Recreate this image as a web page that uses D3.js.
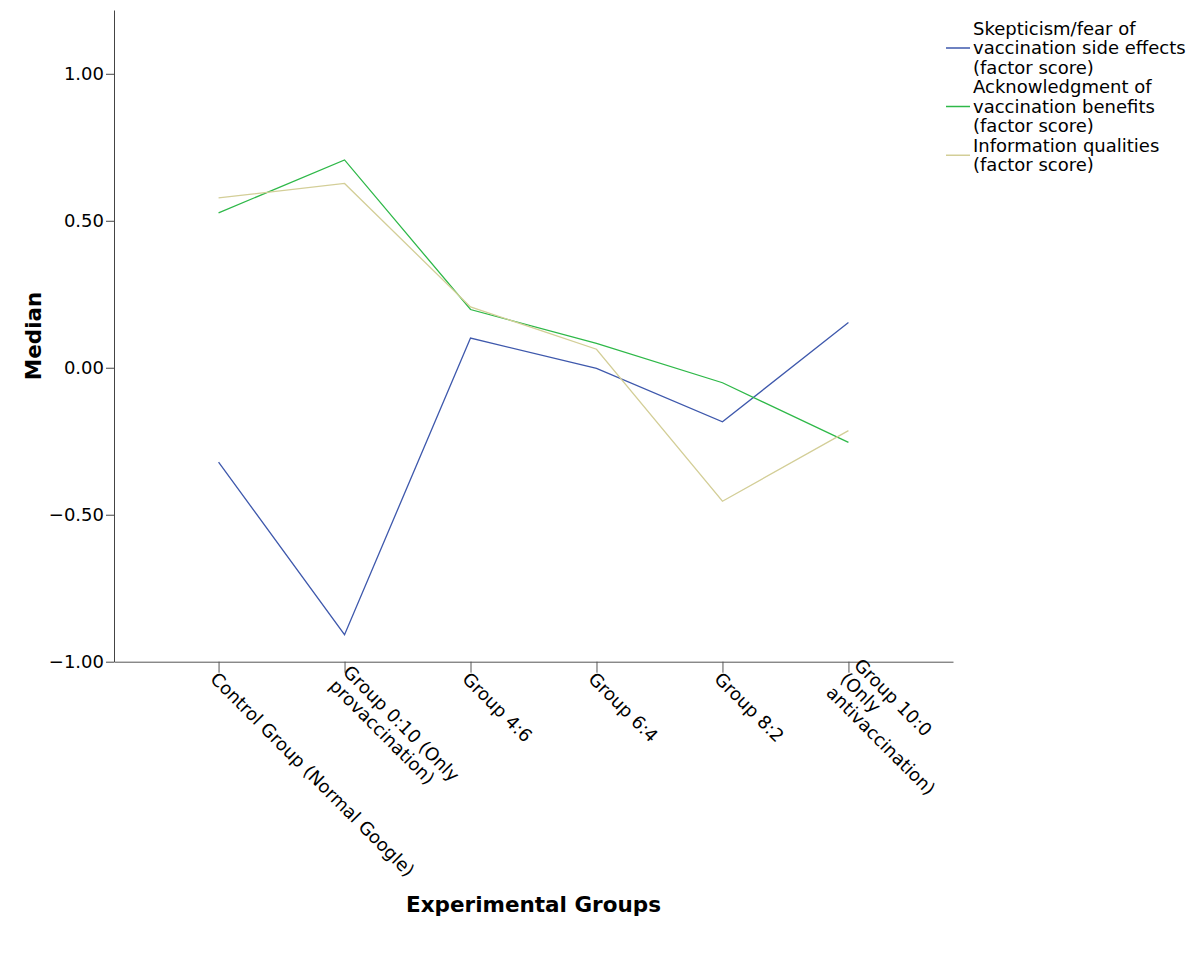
<!DOCTYPE html>
<html>
<head>
<meta charset="utf-8">
<script src="https://d3js.org/d3.v7.min.js"></script>
<style>
  body { margin: 0; background: #fff; }
  text { font-family: "DejaVu Sans", sans-serif; fill: #000; }
</style>
</head>
<body>
<svg width="1198" height="960"></svg>
<script>
// categories on the x axis (label lines as wrapped in the chart)
var groups = ["Control", "G0:10", "G4:6", "G6:4", "G8:2", "G10:0"];
var groupLabels = [
    ["Control Group (Normal Google)"],
    ["Group 0:10 (Only", "provaccination)"],
    ["Group 4:6"],
    ["Group 6:4"],
    ["Group 8:2"],
    ["Group 10:0", "(Only", "antivaccination)"]
];

// medians of the factor scores
var skepticism = [-0.321, -0.908, 0.101, -0.002, -0.184, 0.154];
var benefits = [0.527, 0.707, 0.198, 0.083, -0.051, -0.254];
var infoQuality = [0.578, 0.627, 0.207, 0.063, -0.454, -0.214];

var seriesNames = [
    ["Skepticism/fear of", "vaccination side effects", "(factor score)"],
    ["Acknowledgment of", "vaccination benefits", "(factor score)"],
    ["Information qualities", "(factor score)"]
];
var seriesColors = ["#3e58ac", "#2eb848", "#d3ce97"];
var yTicks = [-1, -0.5, 0, 0.5, 1];

var series = [skepticism, benefits, infoQuality];

var svg = d3.select("svg");

var plotLeft = 114, plotRight = 953, plotTop = 10, plotBottom = 661.7;

var x = d3.scalePoint()
    .domain(groups)
    .range([plotLeft, plotRight])
    .padding(0.83);

var y = d3.scaleLinear()
    .domain([-1, 1.217])
    .range([plotBottom, plotTop]);

// y axis
var yAxis = d3.axisLeft(y)
    .tickValues(yTicks)
    .tickFormat(d3.format(".2f"))
    .tickSize(8)
    .tickSizeOuter(0)
    .tickPadding(2);

var gy = svg.append("g")
    .attr("transform", "translate(" + plotLeft + ",0)")
    .call(yAxis);
gy.selectAll("text").style("font-size", "18px").style("font-family", "DejaVu Sans");
gy.selectAll("path, line").attr("stroke", "#444");

// x axis
var xAxis = d3.axisBottom(x)
    .tickSize(11)
    .tickSizeOuter(0)
    .tickFormat("");

var gx = svg.append("g")
    .attr("transform", "translate(0," + plotBottom + ")")
    .call(xAxis);
gx.selectAll("path, line").attr("stroke", "#555");

// rotated, wrapped tick labels
var lh = 19.5;
groups.forEach(function(g, i) {
    var lines = groupLabels[i];
    var t = svg.append("text")
        .attr("transform", "translate(" + (x(g) + 2) + "," + (plotBottom + 7) + ") rotate(45)")
        .style("font-size", "18px");
    lines.forEach(function(l, j) {
        t.append("tspan")
            .attr("x", 0)
            .attr("y", 16 - (lines.length - 1) * lh / 2 + j * lh)
            .text(l);
    });
});

// lines
var line = d3.line()
    .x(function(d, i) { return x(groups[i]); })
    .y(function(d) { return y(d); });

series.forEach(function(s, i) {
    svg.append("path")
        .datum(s)
        .attr("fill", "none")
        .attr("stroke", seriesColors[i])
        .attr("stroke-width", 1.3)
        .attr("d", line);
});

// axis titles
svg.append("text")
    .attr("x", (plotLeft + plotRight) / 2)
    .attr("y", 912)
    .attr("text-anchor", "middle")
    .style("font-size", "21.5px")
    .style("font-weight", "bold")
    .text("Experimental Groups");

svg.append("text")
    .attr("transform", "translate(41," + ((plotTop + plotBottom) / 2) + ") rotate(-90)")
    .attr("text-anchor", "middle")
    .style("font-size", "21.5px")
    .style("font-weight", "bold")
    .text("Median");

// legend
var ly = 34.5;
seriesNames.forEach(function(names, i) {
    var mid = ly + (names.length - 1) * lh / 2 - 6;
    svg.append("line")
        .attr("x1", 946).attr("x2", 970)
        .attr("y1", mid).attr("y2", mid)
        .attr("stroke", seriesColors[i])
        .attr("stroke-width", 1.5);
    var t = svg.append("text").style("font-size", "18px");
    names.forEach(function(n, j) {
        t.append("tspan")
            .attr("x", 973)
            .attr("y", ly + j * lh)
            .text(n);
    });
    ly += names.length * lh;
});
</script>
</body>
</html>
